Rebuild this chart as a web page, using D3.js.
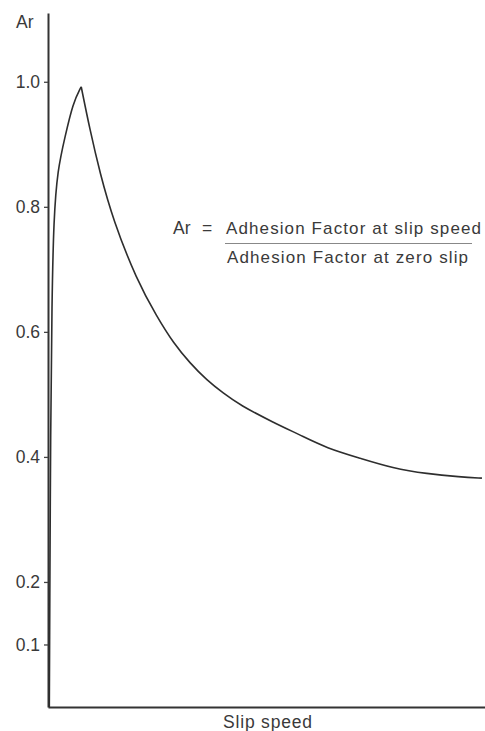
<!DOCTYPE html>
<html>
<head>
<meta charset="utf-8">
<script src="https://cdn.jsdelivr.net/npm/d3@7"></script>
<style>
  html, body { margin: 0; padding: 0; background: #fff; }
  svg { display: block; }
  text { font-family: "Liberation Sans", Arial, Helvetica, sans-serif; fill: #3a3a3a; }
</style>
</head>
<body>
<script>
// ---- data ----
const riseSlip = [0.3, 0.4, 0.6, 0.9, 1.3, 2.2, 3.9, 5.7, 7.6];
const riseAr   = [0, 0.15, 0.45, 0.65, 0.78, 0.86, 0.912, 0.966, 0.992];
const fallSlip = [7.6, 9.6, 11.9, 14.9, 20.3, 24.9, 28.7, 32.5, 36.3, 40.1, 43.9, 51.6, 57.7, 63.8, 71.4, 78.9, 86.7, 94.3, 99.3];
const fallAr   = [0.992, 0.923, 0.854, 0.779, 0.683, 0.6245, 0.582, 0.55, 0.523, 0.502, 0.483, 0.455, 0.435, 0.414, 0.398, 0.382, 0.373, 0.368, 0.366];
const yTicks = [0.1, 0.2, 0.4, 0.6, 0.8, 1.0];
const yTitle = "Ar";
const xTitle = "Slip speed";
const formulaLeft = "Ar";
const formulaEq = "=";
const formulaNum = "Adhesion Factor at slip speed";
const formulaDen = "Adhesion Factor at zero slip";

const W = 485, H = 731;
const svg = d3.select("body").append("svg").attr("width", W).attr("height", H);

const x = d3.scaleLinear().domain([0, 100]).range([48, 485]);
const y = d3.scaleLinear().domain([0, 1.11]).range([707, 13]);

// y axis
const yAxis = d3.axisLeft(y).tickValues(yTicks).tickFormat(d3.format(".1f"))
  .tickSizeInner(4).tickSizeOuter(0).tickPadding(4);
const gy = svg.append("g").attr("transform", `translate(${x(0)},0)`).call(yAxis);
gy.select(".domain").attr("stroke", "#333").attr("stroke-width", 2);
gy.selectAll(".tick line").attr("stroke", "#444").attr("stroke-width", 1.3);
gy.selectAll(".tick text").attr("font-size", 17.5).attr("fill", "#3a3a3a")
  .attr("font-family", "Liberation Sans, Arial, sans-serif");

// x axis (line only)
const xAxis = d3.axisBottom(x).tickValues([]).tickSizeOuter(0);
const gx = svg.append("g").attr("transform", `translate(0,${y(0)})`).call(xAxis);
gx.select(".domain").attr("stroke", "#333").attr("stroke-width", 2);

// titles
svg.append("text").attr("x", 16).attr("y", 28).attr("font-size", 17.5).text(yTitle);
svg.append("text").attr("x", 223).attr("y", 728).attr("font-size", 17.5)
  .attr("textLength", 89).attr("lengthAdjust", "spacing").text(xTitle);

// curve
const line = d3.line().x(d => x(d[0])).y(d => y(d[1])).curve(d3.curveBasis);
const rise = riseSlip.map((s, i) => [s, riseAr[i]]);
const fall = fallSlip.map((s, i) => [s, fallAr[i]]);
svg.append("path").datum(rise).attr("d", line)
  .attr("fill", "none").attr("stroke", "#2e2e2e").attr("stroke-width", 1.6);
svg.append("path").datum(fall).attr("d", line)
  .attr("fill", "none").attr("stroke", "#2e2e2e").attr("stroke-width", 1.6);

// formula annotation
svg.append("text").attr("x", 173).attr("y", 234).attr("font-size", 17.5).text(formulaLeft);
svg.append("text").attr("x", 202).attr("y", 234).attr("font-size", 17.5).text(formulaEq);
svg.append("text").attr("x", 226).attr("y", 234).attr("font-size", 17)
  .attr("textLength", 255).attr("lengthAdjust", "spacing").text(formulaNum);
svg.append("line").attr("x1", 225).attr("x2", 472).attr("y1", 243.5).attr("y2", 243.5)
  .attr("stroke", "#888").attr("stroke-width", 1.2);
svg.append("text").attr("x", 227).attr("y", 263).attr("font-size", 17)
  .attr("textLength", 241).attr("lengthAdjust", "spacing").text(formulaDen);
</script>
</body>
</html>
